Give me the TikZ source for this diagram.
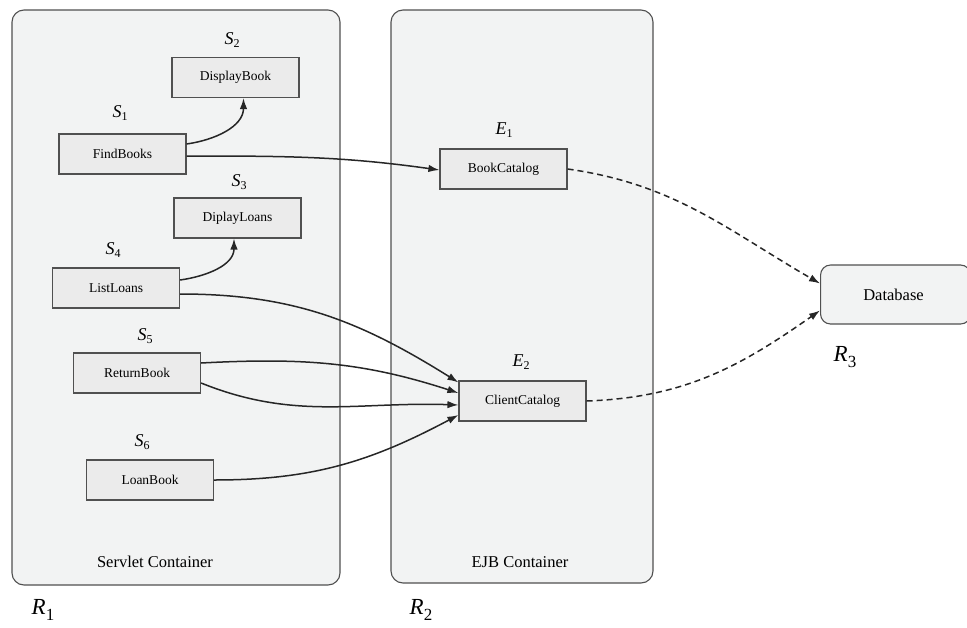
\documentclass[tikz,border=0pt]{standalone}
\usepackage{fontspec}
\setmainfont{Liberation Serif}
\usetikzlibrary{arrows.meta}
\definecolor{contfill}{HTML}{F2F3F3}
\definecolor{boxfill}{HTML}{EBEBEB}
\definecolor{edgegray}{HTML}{505050}
\newcommand{\idx}[2]{\textit{#1}\raisebox{-0.45ex}{\fontsize{12}{12}\selectfont #2}}
\tikzset{
  container/.style={draw=edgegray, fill=contfill, line width=1.1pt, rounded corners=12pt},
  comp/.style={draw=edgegray, fill=boxfill, line width=1.2pt, minimum width=127pt,
    minimum height=40pt, inner sep=0pt, font=\fontsize{13.5}{14}\selectfont},
  tag/.style={font=\fontsize{18}{18}\selectfont},
  rtag/.style={font=\fontsize{23}{23}\selectfont},
  ctitle/.style={font=\fontsize{16.5}{17}\selectfont},
  call/.style={draw=black!85, line width=1.5pt, -{Latex[length=11pt,width=7.5pt]}},
  access/.style={call, dash pattern=on 6pt off 4pt}
}
\begin{document}
\begin{tikzpicture}[x=1pt,y=-1pt]
\useasboundingbox (0,0) rectangle (967,627);

% containers
\draw[container] (12,10) rectangle (340,585);
\draw[container] (391,10) rectangle (653,583);
\node[draw=edgegray, fill=contfill, line width=1.1pt, rounded corners=10pt,
  minimum width=150pt, minimum height=59pt, inner sep=0pt, anchor=west,
  font=\fontsize{16.5}{17}\selectfont] (dbase) at (820,294.5) {\hspace*{-4pt}Database};

\node[ctitle] (sc) at (155,562) {Servlet Container};
\node[ctitle] (ec) at (520,562) {EJB Container};

% servlets
\node[comp] (db) at (235.5,77.5) {DisplayBook};
\node[comp] (fb) at (122.5,154) {FindBooks};
\node[comp] (dl) at (237.5,218) {DiplayLoans};
\node[comp] (ll) at (116,288) {ListLoans};
\node[comp] (rb) at (137,373) {ReturnBook};
\node[comp] (lb) at (150,480) {LoanBook};

% beans
\node[comp] (bc) at (503.5,169) {BookCatalog};
\node[comp] (cc) at (522.5,401) {ClientCatalog};

% labels
\node[tag] (s1) at (120,113) {\idx{S}{1}};
\node[tag] (s2) at (232,40) {\idx{S}{2}};
\node[tag] (s3) at (239,182) {\idx{S}{3}};
\node[tag] (s4) at (113,250) {\idx{S}{4}};
\node[tag] (s5) at (145,336) {\idx{S}{5}};
\node[tag] (s6) at (142,442) {\idx{S}{6}};
\node[tag] (e1) at (504,130) {\idx{E}{1}};
\node[tag] (e2) at (521,362) {\idx{E}{2}};
\node[rtag] (r1) at (43,610) {\textit{R}\raisebox{-0.5ex}{\fontsize{17}{17}\selectfont 1}};
\node[rtag] (r2) at (421,610) {\textit{R}\raisebox{-0.5ex}{\fontsize{17}{17}\selectfont 2}};
\node[rtag] (r3) at (845,357) {\textit{R}\raisebox{-0.5ex}{\fontsize{17}{17}\selectfont 3}};

% calls between components
\draw[call] ([yshift=10pt]fb.east) to[out=8,in=-90] ([xshift=8pt]db.south);
\draw[call] ([yshift=-2pt]fb.east) to[out=0,in=172] ([yshift=-1pt]bc.west);
\draw[call] ([yshift=8pt]ll.east) to[out=8,in=-90] ([xshift=-3.5pt]dl.south);
\draw[call] ([yshift=-6pt]ll.east) to[out=0,in=148] ([yshift=-2pt]cc.north west);
\draw[call] ([yshift=10pt]rb.east) to[out=3,in=162] ([yshift=8pt]cc.west);
\draw[call] ([yshift=-10pt]rb.east) to[out=-22,in=178] ([yshift=-4pt]cc.west);
\draw[call] (lb.east) to[out=0,in=208] ([yshift=-14pt]cc.west);

% database access
\draw[access] (bc.east) to[out=-8,in=150] ([yshift=11pt]dbase.west);
\draw[access] (cc.east) to[out=2,in=215] ([yshift=-16pt]dbase.west);
\end{tikzpicture}
\end{document}
